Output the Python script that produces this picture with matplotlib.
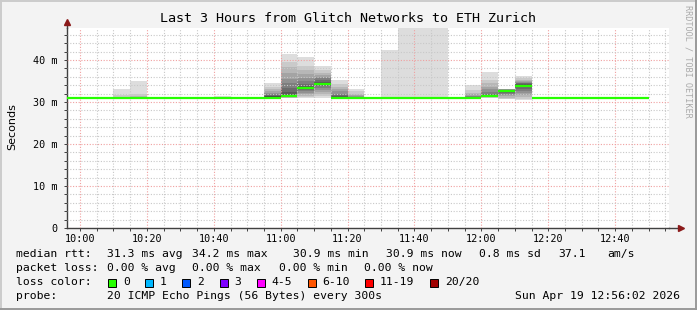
import matplotlib
matplotlib.use("Agg")
import matplotlib.pyplot as plt
from matplotlib.patches import Rectangle
from matplotlib.lines import Line2D

# time axis: minutes after 10:00
bin_starts = list(range(-5, 170, 5))          # 9:55 ... 12:45, 5 min bins
median_rtt = [31.0, 31.0, 31.0, 31.0, 31.0, 31.0, 31.0, 31.0, 31.0, 31.0,
              31.0, 31.0, 31.0, 31.4, 33.4, 34.2, 31.0, 31.0, 31.0, 31.0,
              31.0, 31.0, 31.0, 31.0, 31.0, 31.4, 32.5, 33.9, 31.0, 31.0,
              31.0, 31.0, 31.0, 31.0, 30.9]

# sorted ping rtts (ms) for bins that show smoke
smoke_starts = [10, 15, 40, 55, 60, 65, 70, 75, 80, 90, 95, 100, 105, 115, 120, 125, 130]
smoke_pings = [
    [30.8, 30.9, 30.9, 30.9, 31.0, 31.0, 31.0, 31.0, 31.0, 31.0, 31.0, 31.0, 31.0, 31.0, 31.0, 31.1, 31.2, 31.6, 33.1, 33.5],
    [30.9, 30.9, 30.9, 31.0, 31.0, 31.0, 31.0, 31.0, 31.0, 31.0, 31.0, 31.0, 31.0, 31.1, 31.1, 31.2, 31.4, 32.0, 35.0, 36.0],
    [30.9, 30.9, 30.9, 31.0, 31.0, 31.0, 31.0, 31.0, 31.0, 31.0, 31.0, 31.0, 31.0, 31.0, 31.0, 31.0, 31.0, 31.1, 31.4, 31.6],
    [30.9, 30.9, 31.0, 31.0, 31.0, 31.0, 31.0, 31.1, 31.1, 31.2, 31.3, 31.4, 31.6, 31.8, 32.2, 32.6, 33.0, 33.6, 34.6, 35.2],
    [30.9, 31.0, 31.0, 31.1, 31.2, 31.3, 31.3, 31.4, 31.4, 31.4, 31.6, 32.4, 33.4, 34.5, 35.5, 36.8, 38.2, 39.6, 41.3, 41.6],
    [31.0, 31.2, 31.5, 31.8, 32.2, 32.6, 32.9, 33.1, 33.3, 33.4, 33.5, 33.8, 34.3, 35.0, 35.8, 36.6, 37.5, 38.6, 40.7, 41.0],
    [30.9, 31.3, 31.8, 32.3, 32.8, 33.3, 33.7, 34.0, 34.1, 34.2, 34.5, 34.8, 35.2, 35.6, 36.0, 36.5, 37.0, 37.6, 38.6, 38.8],
    [30.9, 30.9, 31.0, 31.0, 31.0, 31.0, 31.0, 31.0, 31.0, 31.0, 31.1, 31.3, 31.6, 32.0, 32.5, 33.0, 33.6, 34.3, 35.2, 35.6],
    [30.9, 30.9, 31.0, 31.0, 31.0, 31.0, 31.0, 31.0, 31.0, 31.0, 31.0, 31.1, 31.1, 31.2, 31.3, 31.6, 32.0, 32.5, 33.1, 33.4],
    [30.9, 30.9, 31.0, 31.0, 31.0, 31.0, 31.0, 31.0, 31.0, 31.0, 31.0, 31.0, 31.0, 31.0, 31.0, 31.0, 31.1, 31.1, 42.4, 48.0],
    [30.9, 30.9, 31.0, 31.0, 31.0, 31.0, 31.0, 31.0, 31.0, 31.0, 31.0, 31.0, 31.0, 31.0, 31.0, 31.0, 31.1, 31.1, 60.0, 70.0],
    [30.9, 30.9, 31.0, 31.0, 31.0, 31.0, 31.0, 31.0, 31.0, 31.0, 31.0, 31.0, 31.0, 31.0, 31.0, 31.0, 31.1, 31.1, 60.0, 70.0],
    [30.9, 30.9, 31.0, 31.0, 31.0, 31.0, 31.0, 31.0, 31.0, 31.0, 31.0, 31.0, 31.0, 31.0, 31.0, 31.0, 31.1, 31.1, 60.0, 70.0],
    [30.9, 30.9, 31.0, 31.0, 31.0, 31.0, 31.0, 31.0, 31.0, 31.0, 31.1, 31.1, 31.2, 31.3, 31.5, 31.8, 32.2, 32.8, 34.0, 34.3],
    [30.9, 31.0, 31.1, 31.2, 31.2, 31.3, 31.3, 31.4, 31.4, 31.4, 31.5, 31.7, 32.0, 32.4, 33.0, 33.6, 34.4, 35.3, 37.1, 37.5],
    [30.6, 30.8, 31.0, 31.3, 31.6, 31.9, 32.1, 32.3, 32.4, 32.5, 32.6, 32.7, 32.8, 32.9, 33.0, 33.0, 33.1, 33.1, 33.2, 33.3],
    [30.4, 30.8, 31.2, 31.7, 32.2, 32.7, 33.1, 33.5, 33.7, 33.9, 34.0, 34.2, 34.4, 34.6, 34.8, 35.0, 35.3, 35.6, 36.2, 36.4],
]

tick_pos = [0, 20, 40, 60, 80, 100, 120, 140, 160]
tick_labels = ["10:00", "10:20", "10:40", "11:00", "11:20", "11:40", "12:00", "12:20", "12:40"]
ytick_pos = [0, 10, 20, 30, 40]
ytick_labels = ["0", "10 m", "20 m", "30 m", "40 m"]

loss_labels = ["0", "1", "2", "3", "4-5", "6-10", "11-19", "20/20"]
loss_colors = ["#26ff00", "#00b8ff", "#0059ff", "#7e00ff", "#ff00ff", "#ff5500", "#ff0000", "#a00000"]

MONO = "DejaVu Sans Mono"
BIN = 5

fig = plt.figure(figsize=(6.97, 3.10), dpi=100, facecolor="#f3f3f3")
W, H = 697.0, 310.0
ax = fig.add_axes([67 / W, 1 - 228 / H, 602 / W, 200 / H])
ax.set_facecolor("white")

# smoke: band i spans ping[i] .. ping[18-i], outer bands lightest
for start, pings in zip(smoke_starts, smoke_pings):
    for i in range(10):
        g = int(190 / 10 * (9 - i)) + 50
        lo, hi = pings[i], pings[18 - i]
        if hi <= lo:
            continue
        ax.bar(start, hi - lo, bottom=lo, width=BIN, align="edge",
               color="#%02x%02x%02x" % (g, g, g), linewidth=0, zorder=1)

# median segments
for start, med in zip(bin_starts, median_rtt):
    ax.hlines(med, start, start + BIN, colors="#26ff00", linewidth=1.6, zorder=4)

x0 = -3.9
ax.set_xlim(x0, x0 + 180)
ax.set_ylim(0, 47.6)

ax.set_xticks(tick_pos)
ax.set_xticklabels(tick_labels, fontfamily=MONO, fontsize=7.3)
ax.set_xticks(range(0, 180, 5), minor=True)
ax.set_yticks(ytick_pos)
ax.set_yticklabels(ytick_labels, fontfamily=MONO, fontsize=7.3)
ax.set_yticks(range(0, 48, 2), minor=True)
ax.tick_params(which="both", length=2, width=0.7, color="#404040", pad=2)
ax.tick_params(axis="y", pad=5)

ax.set_axisbelow(False)
ax.grid(which="minor", color="#c8c8c8", linestyle=(0, (1, 1.5)), linewidth=0.8)
ax.grid(which="major", color="#f0a0a0", linestyle=(0, (1, 1.5)), linewidth=0.8)

for s in ["top", "right"]:
    ax.spines[s].set_visible(False)
for s in ["left", "bottom"]:
    ax.spines[s].set_color("#404040")
    ax.spines[s].set_linewidth(1.0)

# axis arrows
ax.add_line(Line2D([1.0, 1.02], [0, 0], transform=ax.transAxes, color="#404040",
                   linewidth=1.0, clip_on=False))
ax.add_line(Line2D([0, 0], [1.0, 1.025], transform=ax.transAxes, color="#404040",
                   linewidth=1.0, clip_on=False))
ax.plot([1.02], [0], marker=">", markersize=4, color="#8b1a1a", transform=ax.transAxes, clip_on=False)
ax.plot([0], [1.03], marker="^", markersize=4, color="#8b1a1a", transform=ax.transAxes, clip_on=False)

fig.text(12 / W, 1 - 127 / H, "Seconds", fontsize=8, rotation=90, ha="center", va="center")
fig.text(348 / W, 1 - 19 / H, "Last 3 Hours from Glitch Networks to ETH Zurich",
         fontfamily=MONO, fontsize=9.6, ha="center", va="center")
fig.text(688 / W, 1 - 5 / H, "RRDTOOL / TOBI OETIKER", fontfamily=MONO, fontsize=6.1,
         color="#aaaaaa", rotation=270, ha="center", va="top")

# legend rows
fs = 8.2
def put(x, y, s, **kw):
    fig.text(x / W, 1 - y / H, s, fontfamily=MONO, fontsize=fs, va="center", **kw)

put(16, 254, "median rtt:")
for x, s in [(107, "31.3 ms avg"), (192, "34.2 ms max"), (293, "30.9 ms min"),
             (386, "30.9 ms now"), (479, "0.8 ms sd"), (558, "37.1"), (607, "am/s")]:
    put(x, 254, s)
put(16, 268, "packet loss:")
for x, s in [(107, "0.00 % avg"), (192, "0.00 % max"), (279, "0.00 % min"), (364, "0.00 % now")]:
    put(x, 268, s)
put(16, 282, "loss color:")
box_x = [108, 145, 182, 219.5, 256.5, 307.5, 365, 430]
for bx, lab, col in zip(box_x, loss_labels, loss_colors):
    fig.patches.append(Rectangle((bx / W, 1 - 286.5 / H), 8 / W, 8 / H, transform=fig.transFigure,
                                 facecolor=col, edgecolor="black", linewidth=0.7))
    put(bx + 15, 282, lab)
put(16, 296, "probe:")
put(107, 296, "20 ICMP Echo Pings (56 Bytes) every 300s")
put(680, 296, "Sun Apr 19 12:56:02 2026", ha="right")

# 3d frame
fig.add_artist(Line2D([0, 1], [1 - 0.5 / H, 1 - 0.5 / H], transform=fig.transFigure, color="#cbcbcb", linewidth=1.4))
fig.add_artist(Line2D([0.5 / W, 0.5 / W], [0, 1], transform=fig.transFigure, color="#cbcbcb", linewidth=1.4))
fig.add_artist(Line2D([0, 1], [1 / H, 1 / H], transform=fig.transFigure, color="#999999", linewidth=1.4))
fig.add_artist(Line2D([1 - 1 / W, 1 - 1 / W], [0, 1], transform=fig.transFigure, color="#999999", linewidth=1.4))

fig.savefig("out.png", dpi=100, facecolor=fig.get_facecolor())
